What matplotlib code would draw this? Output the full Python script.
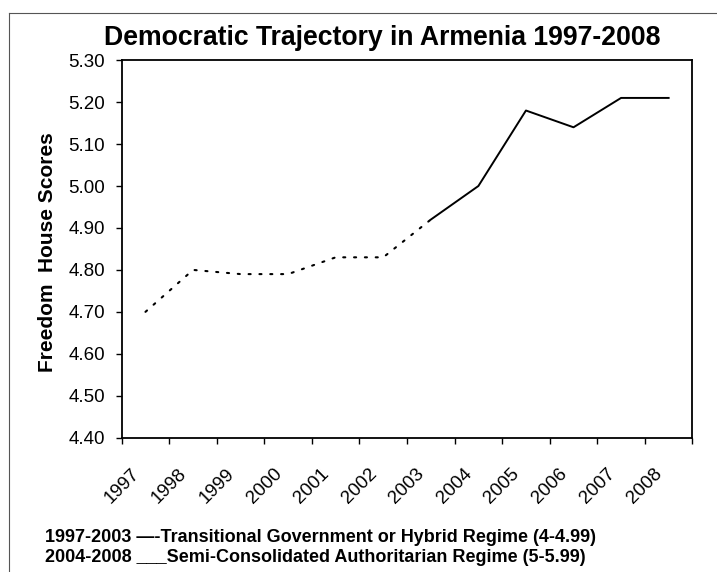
import matplotlib
matplotlib.use("Agg")
import matplotlib.pyplot as plt
from matplotlib.lines import Line2D
from matplotlib.transforms import ScaledTranslation
import numpy as np

plt.rcParams["font.family"] = "Liberation Sans"

# Freedom House scores
years = ['1997', '1998', '1999', '2000', '2001', '2002',
         '2003', '2004', '2005', '2006', '2007', '2008']
scores = [4.70, 4.80, 4.79, 4.79, 4.83, 4.83,
          4.92, 5.00, 5.18, 5.14, 5.21, 5.21]
split_year = '2003'  # dotted up to here, solid after
y_ticks = [4.40, 4.50, 4.60, 4.70, 4.80, 4.90, 5.00, 5.10, 5.20, 5.30]

title = 'Democratic Trajectory in Armenia 1997-2008'
ylabel = 'Freedom  House Scores'
note_lines = ['1997-2003 \u2014-Transitional Government or Hybrid Regime (4-4.99)',
              '2004-2008 ___Semi-Consolidated Authoritarian Regime (5-5.99)']

fig = plt.figure(figsize=(7.17, 5.72), dpi=100)
ax = fig.add_axes([0.1697, 0.2348, 0.796, 0.660])

x = np.arange(len(years))
k = years.index(split_year)
ax.plot(x[:k + 1], scores[:k + 1], color='black', lw=1.5,
        linestyle=(0, (1, 4.2)), dash_capstyle='round')
ax.plot(x[k:], scores[k:], color='black', lw=1.4)

ax.set_xlim(-0.5, len(years) - 0.5)
ax.set_ylim(y_ticks[0], y_ticks[-1])

# Excel-style category axis: ticks between categories, labels at centres
ax.set_xticks(np.arange(-0.5, len(years), 1.0))
ax.set_xticklabels([])
ax.set_xticks(x, minor=True)
ax.set_xticklabels(years, minor=True, fontsize=13.5)
ax.tick_params(axis='x', which='major', direction='out', length=4, width=1)
ax.tick_params(axis='x', which='minor', length=0, pad=24)
shift = ScaledTranslation(-0.09, 0, fig.dpi_scale_trans)
for lab in ax.get_xticklabels(minor=True):
    lab.set_rotation(45)
    lab.set_ha('right')
    lab.set_va('center')
    lab.set_rotation_mode('anchor')
    lab.set_transform(lab.get_transform() + shift)

ax.set_yticks(y_ticks)
ax.set_yticklabels(['%.2f' % v for v in y_ticks], fontsize=13.5)
ax.tick_params(axis='y', direction='out', length=4, width=1, pad=8)

for s in ax.spines.values():
    s.set_linewidth(1.3)

fig.text(382 / 717, 1 - 45 / 572, title, fontsize=19.2, fontweight='bold',
         ha='center', va='baseline')
fig.text(48 / 717, 1 - 252 / 572, ylabel, rotation=90, fontsize=15,
         fontweight='bold', ha='center', va='center')

fig.text(45 / 717, 1 - 537 / 572, note_lines[0], fontsize=13,
         fontweight='bold', ha='left', va='center')
fig.text(45 / 717, 1 - 557 / 572, note_lines[1], fontsize=13,
         fontweight='bold', ha='left', va='center')

# thin frame around the chart (top and left edges visible)
fig.add_artist(Line2D([9 / 717, 1.0], [1 - 13 / 572, 1 - 13 / 572],
                      transform=fig.transFigure, color='#555555', lw=0.8))
fig.add_artist(Line2D([9 / 717, 9 / 717], [0, 1 - 13 / 572],
                      transform=fig.transFigure, color='#555555', lw=0.8))

fig.savefig('out.png', dpi=100)
